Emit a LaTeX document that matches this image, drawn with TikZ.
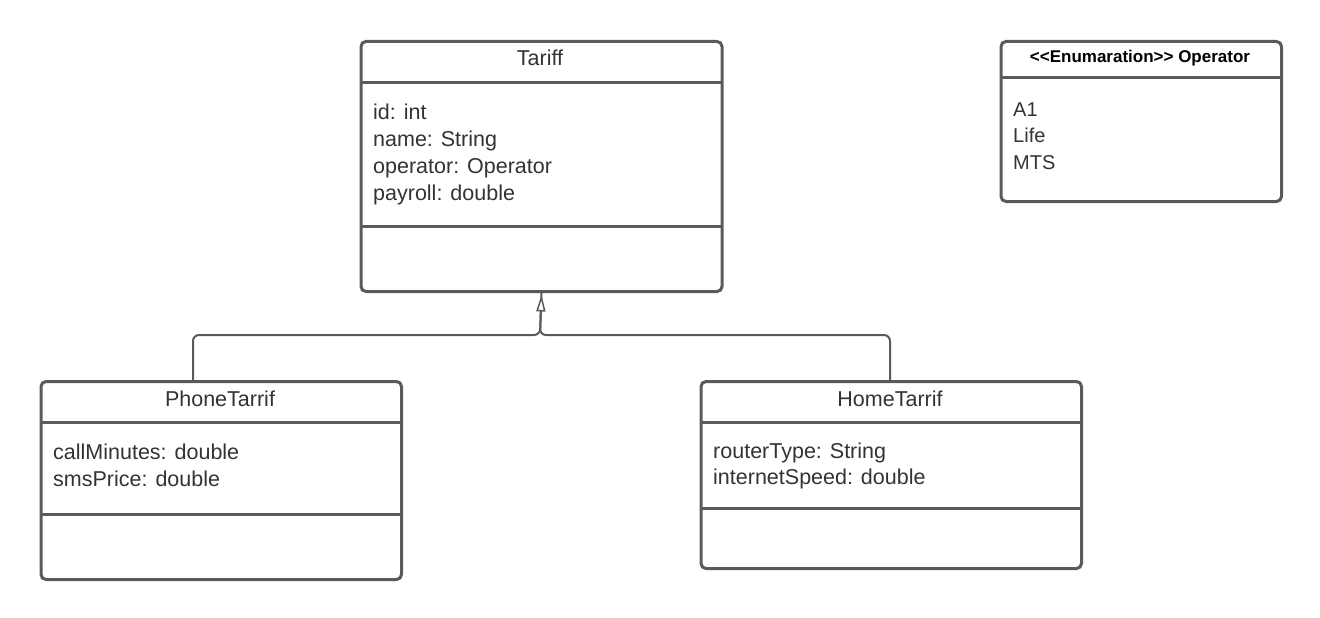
\documentclass[tikz,border=0pt]{standalone}
\usepackage{fontspec}
\setmainfont{Liberation Sans}
\usetikzlibrary{arrows.meta}
\definecolor{edge}{HTML}{5A5A5A}
\definecolor{txt}{HTML}{333333}
\tikzset{
 cls/.style={draw=edge, line width=3pt, rounded corners=5pt, anchor=north west, inner sep=0pt, fill=white},
 ttl/.style={text=txt, font=\fontsize{21.5}{27}\selectfont, inner sep=0pt, anchor=base},
 attr/.style={text=txt, font=\fontsize{21.5}{27}\selectfont, inner sep=0pt, anchor=base west},
 eattr/.style={text=txt, font=\fontsize{20}{26}\selectfont, inner sep=0pt, anchor=base west},
 ettl/.style={text=black, font=\fontsize{17}{20}\selectfont\bfseries, inner sep=0pt, anchor=base},
 div/.style={draw=edge, line width=3pt},
 conn/.style={draw=edge, line width=2pt, rounded corners=6pt},
}
\begin{document}
\begin{tikzpicture}[x=1pt,y=-1pt]
\useasboundingbox (0,0) rectangle (1320,618);
% Tariff
\node[cls, minimum width=361pt, minimum height=250pt] (tariff) at (359.5,40) {};
\draw[div] (359.5,82.5) -- (720.5,82.5);
\draw[div] (359.5,226.5) -- (720.5,226.5);
\node[ttl] (tt) at (540,66) {Tariff};
\node[attr] (t1) at (373,119) {id: int};
\node[attr] (t2) at (373,146) {name: String};
\node[attr] (t3) at (373,173) {operator: Operator};
\node[attr] (t4) at (373,200) {payroll: double};
% Operator enum
\node[cls, minimum width=280.5pt, minimum height=160pt] (oper) at (999.5,40) {};
\draw[div] (999.5,78) -- (1280,78);
\node[ettl] (ot) at (1140,63) {<{}<Enumaration>{}> Operator};
\node[eattr] (o1) at (1013,116) {A1};
\node[eattr] (o2) at (1013,142.5) {Life};
\node[eattr] (o3) at (1013,169) {MTS};
% PhoneTarrif
\node[cls, minimum width=360.5pt, minimum height=198pt] (phone) at (39.5,380) {};
\draw[div] (39.5,422) -- (400,422);
\draw[div] (39.5,514) -- (400,514);
\node[ttl] (pt) at (220,406) {PhoneTarrif};
\node[attr] (p1) at (53,459) {callMinutes: double};
\node[attr] (p2) at (53,486) {smsPrice: double};
% HomeTarrif
\node[cls, minimum width=380.5pt, minimum height=187pt] (home) at (699.5,380) {};
\draw[div] (699.5,422) -- (1080,422);
\draw[div] (699.5,508.5) -- (1080,508.5);
\node[ttl] (ht) at (890,406) {HomeTarrif};
\node[attr] (h1) at (713,458.5) {routerType: String};
\node[attr] (h2) at (713,484.5) {internetSpeed: double};
% inheritance connectors
\coordinate (pa) at (193,380);
\coordinate (ha) at (890,380);
\coordinate (ja) at (540,335);
\draw[conn] (pa) |- (ja) -- (tariff.south);
\draw[conn, -{Triangle[length=17pt, width=9pt, line width=1.5pt, fill=white]}] (ha) |- (ja) -- ([yshift=-1.5pt]tariff.south);
\end{tikzpicture}
\end{document}
